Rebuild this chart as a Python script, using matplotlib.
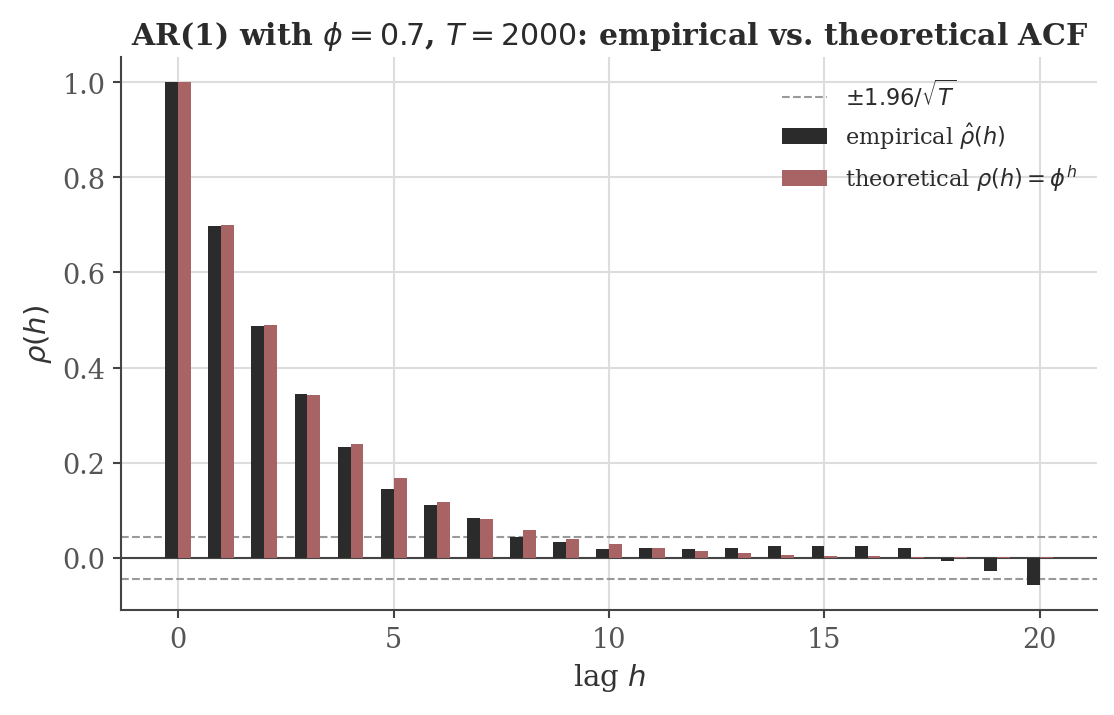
import numpy as np
import matplotlib
matplotlib.use("Agg")
import matplotlib.pyplot as plt

lags = list(range(21))
empirical = [1.000, 0.698, 0.487, 0.345, 0.233, 0.145, 0.111, 0.084, 0.043, 0.034,
             0.018, 0.021, 0.018, 0.021, 0.025, 0.025, 0.025, 0.021, -0.007, -0.027, -0.057]
phi = 0.7
theoretical = [phi ** h for h in lags]
T = 2000
band = 1.96 / np.sqrt(T)

plt.rcParams.update({
    "font.family": "DejaVu Serif",
    "mathtext.fontset": "dejavusans",
    "axes.edgecolor": "#444444",
    "axes.linewidth": 1.0,
    "xtick.color": "#444444",
    "ytick.color": "#444444",
    "xtick.labelcolor": "#555555",
    "ytick.labelcolor": "#555555",
    "axes.labelcolor": "#333333",
    "text.color": "#2b2b2b",
})

fig, ax = plt.subplots(figsize=(7.433, 4.773), dpi=150)
fig.subplots_adjust(left=0.1085, right=0.984, bottom=0.1466, top=0.919)
x = np.array(lags)
w = 0.3
ax.axhline(0, color="#444444", lw=1.0, zorder=2)
ax.axhline(band, color="#999999", lw=1.0, ls="--", zorder=2, label=r"$\pm1.96/\sqrt{T}$")
ax.axhline(-band, color="#999999", lw=1.0, ls="--", zorder=2)
ax.bar(x - w / 2, empirical, width=w, color="#2b2b2b", zorder=3, label=r"empirical $\hat{\rho}(h)$")
ax.bar(x + w / 2, theoretical, width=w, color="#a86464", zorder=3, label=r"theoretical $\rho(h) = \phi^{h}$")

ax.grid(True, color="#dddddd", lw=1.0, zorder=0)
ax.set_axisbelow(True)
for s in ["top", "right"]:
    ax.spines[s].set_visible(False)
ax.tick_params(labelsize=13, length=4, width=1)
ax.set_xticks([0, 5, 10, 15, 20])
ax.set_yticks([0.0, 0.2, 0.4, 0.6, 0.8, 1.0])
ax.set_xlabel(r"lag $h$", fontsize=14)
ax.set_ylabel(r"$\rho(h)$", fontsize=14)
ax.set_title(r"AR(1) with $\phi = 0.7$, $T = 2000$: empirical vs. theoretical ACF",
             fontsize=14.4, fontweight="bold")
ax.legend(frameon=False, fontsize=10.8, loc="upper right")
fig.savefig("out.png", dpi=150)
